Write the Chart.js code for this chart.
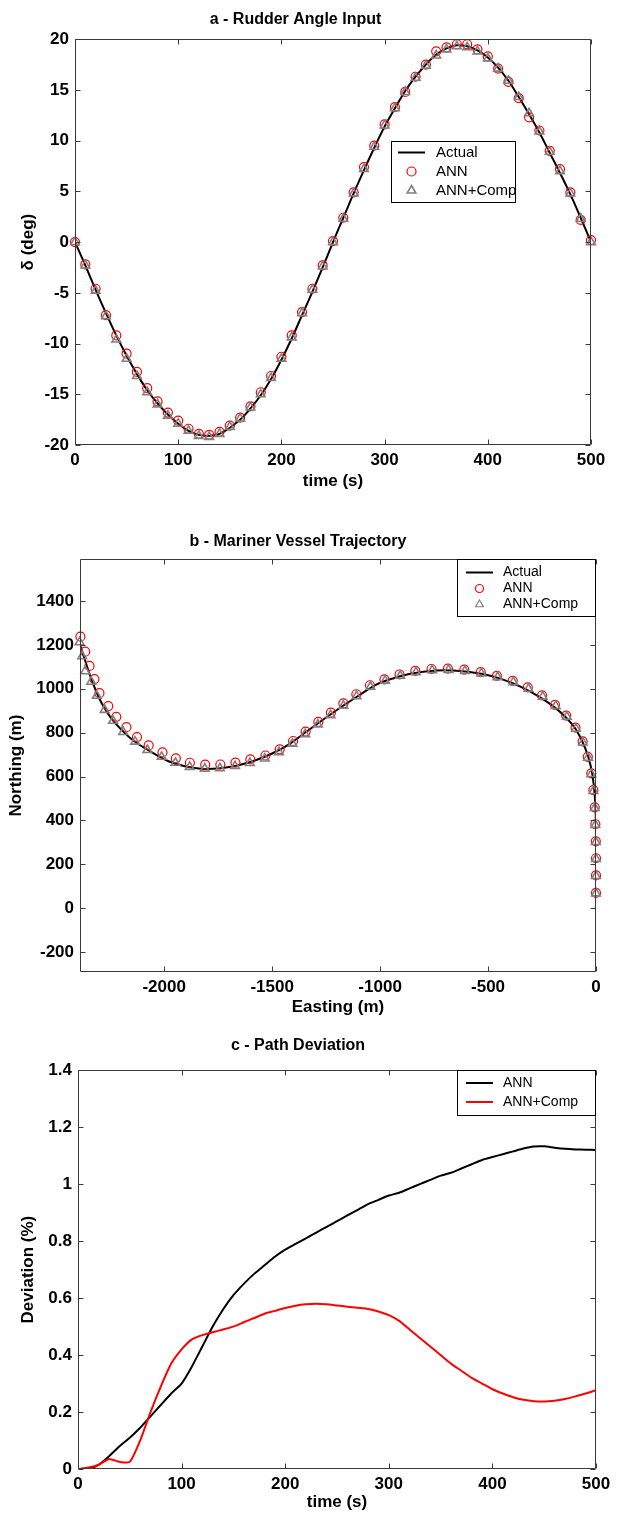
<!DOCTYPE html>
<html>
<head>
<meta charset="utf-8">
<title>Rudder angle, vessel trajectory and path deviation</title>
<script src="https://cdn.jsdelivr.net/npm/chart.js@4.4.1/dist/chart.umd.min.js"></script>
<style>
  body { margin: 0; background: #fff; }
  .panel { position: absolute; left: 0; width: 622px; }
</style>
</head>
<body>
<div class="panel" style="top:0"><canvas id="rudderChart" width="622" height="500"></canvas></div>
<div class="panel" style="top:500px"><canvas id="trackChart" width="622" height="518"></canvas></div>
<div class="panel" style="top:1018px"><canvas id="deviationChart" width="622" height="496"></canvas></div>
<script>
// a - rudder angle (deg), sampled every 10 s
const timeSteps = [0, 10, 20, 30, 40, 50, 60, 70, 80, 90, 100, 110, 120, 130, 140, 150, 160, 170, 180, 190, 200,
  210, 220, 230, 240, 250, 260, 270, 280, 290, 300, 310, 320, 330, 340, 350, 360, 370, 380, 390, 400,
  410, 420, 430, 440, 450, 460, 470, 480, 490, 500];
const actualDelta = [0, -2.3, -4.7, -7.0, -9.2, -11.2, -13.0, -14.6, -15.9, -17.0, -17.9, -18.6, -19.0, -19.1, -18.9, -18.3, -17.5, -16.4, -15.1, -13.5, -11.6,
  -9.5, -7.2, -4.9, -2.5, 0, 2.4, 4.8, 7.1, 9.3, 11.4, 13.2, 14.9, 16.3, 17.5, 18.5, 19.1, 19.4, 19.3, 18.9, 18.2,
  17.2, 15.9, 14.3, 12.6, 10.8, 8.8, 6.8, 4.7, 2.4, 0];
const annDelta = [0, -2.2, -4.6, -7.2, -9.2, -11.0, -12.8, -14.4, -15.7, -16.8, -17.6, -18.4, -18.9, -19.0, -18.7, -18.1, -17.3, -16.2, -14.8, -13.2, -11.3,
  -9.2, -6.9, -4.6, -2.3, 0.1, 2.4, 4.9, 7.4, 9.5, 11.6, 13.3, 14.8, 16.3, 17.5, 18.8, 19.2, 19.5, 19.5, 19.0, 18.3,
  17.1, 15.8, 14.2, 12.3, 11.0, 9.0, 7.2, 4.9, 2.2, 0.2];
const compDelta = [0, -2.3, -4.8, -7.3, -9.6, -11.5, -13.2, -14.8, -16.0, -17.1, -17.9, -18.6, -19.1, -19.2, -18.9, -18.2, -17.4, -16.3, -15.0, -13.4, -11.5,
  -9.4, -7.0, -4.7, -2.4, 0, 2.3, 4.8, 7.2, 9.4, 11.5, 13.2, 14.8, 16.2, 17.4, 18.4, 19.0, 19.3, 19.2, 18.8, 18.1,
  17.1, 15.9, 14.3, 12.7, 10.9, 8.9, 7.0, 4.8, 2.3, 0];
const timeTicks = [0, 100, 200, 300, 400, 500];
const deltaTicks = [-20, -15, -10, -5, 0, 5, 10, 15, 20];

// b - trajectory (m)
const actualEast = [0, 0, -2, -10, -25, -50, -90, -140, -200, -270, -350, -440, -530, -620, -700, -780, -860, -940, -1020,
  -1100, -1180, -1260, -1340, -1420, -1500, -1580, -1660, -1740, -1820, -1900, -1980, -2060, -2140, -2200, -2250,
  -2290, -2320, -2345, -2365, -2390];
const actualNorth = [68, 300, 450, 560, 650, 730, 810, 870, 922, 968, 1010, 1045, 1068, 1080, 1084, 1080, 1068, 1047, 1018,
  968, 917, 862, 805, 748, 705, 673, 650, 638, 635, 646, 670, 712, 762, 815, 872,
  935, 1000, 1065, 1125, 1200];
const annEast = [0, 0, 0, -1, -3, -6, -12, -22, -38, -62, -95, -138, -190, -250, -316, -386, -459, -534, -610, -686,
  -762, -837, -910, -980, -1047, -1110, -1170, -1228, -1286, -1345, -1403, -1465, -1531, -1601, -1670, -1740, -1810,
  -1881, -1946, -2008, -2072, -2126, -2175, -2222, -2259, -2300, -2323, -2346, -2366, -2388];
const annNorth = [70, 150, 228, 305, 383, 460, 538, 615, 690, 760, 823, 878, 927, 970, 1006, 1036, 1059, 1076, 1087, 1092,
  1090, 1081, 1065, 1043, 1016, 975, 933, 891, 849, 805, 762, 724, 696, 678, 664, 655, 654,
  663, 683, 710, 742, 780, 825, 872, 921, 980, 1044, 1104, 1169, 1237];
const compEast = [0, 0, 0, -1, -3, -6, -12, -22, -37, -61, -93, -135, -187, -247, -313, -383, -456, -531, -607, -683,
  -759, -834, -907, -977, -1045, -1109, -1170, -1229, -1288, -1347, -1406, -1468, -1534, -1603, -1672, -1742, -1812,
  -1882, -1948, -2012, -2078, -2135, -2190, -2237, -2276, -2312, -2338, -2366, -2380, -2392];
const compNorth = [68, 147, 225, 302, 380, 457, 534, 611, 686, 755, 818, 873, 922, 964, 1000, 1030, 1053, 1070, 1081, 1086,
  1084, 1075, 1059, 1037, 1009, 966, 923, 880, 837, 793, 750, 711, 682, 662, 648, 638, 636,
  644, 663, 690, 721, 759, 803, 854, 904, 968, 1032, 1080, 1148, 1212];
const eastTicks = [-2000, -1500, -1000, -500, 0];
const northTicks = [-200, 0, 200, 400, 600, 800, 1000, 1200, 1400];

// c - path deviation (%)
const annDeviation = [0, 0, 0.015, 0.045, 0.08, 0.11, 0.145, 0.185, 0.225, 0.265, 0.3, 0.36, 0.43, 0.5, 0.56, 0.61, 0.65, 0.685, 0.715, 0.745, 0.77,
  0.79, 0.81, 0.83, 0.85, 0.87, 0.89, 0.91, 0.93, 0.945, 0.96, 0.97, 0.985, 1.0, 1.015, 1.03, 1.04, 1.055, 1.07, 1.085, 1.095,
  1.105, 1.115, 1.125, 1.132, 1.133, 1.128, 1.124, 1.122, 1.121, 1.12];
const compDeviation = [0, 0.005, 0.015, 0.035, 0.025, 0.025, 0.1, 0.2, 0.29, 0.37, 0.42, 0.455, 0.47, 0.48, 0.49, 0.5, 0.515, 0.53, 0.545, 0.555, 0.565,
  0.573, 0.578, 0.58, 0.578, 0.574, 0.57, 0.566, 0.562, 0.553, 0.54, 0.52, 0.49, 0.46, 0.43, 0.4, 0.37, 0.345, 0.32, 0.3, 0.28,
  0.265, 0.252, 0.243, 0.238, 0.237, 0.24, 0.246, 0.255, 0.265, 0.277];
const deviationTicks = [0, 0.2, 0.4, 0.6, 0.8, 1, 1.2, 1.4];

const FONT = '"Liberation Sans", Arial, Helvetica, sans-serif';
const RED = '#ff0000';
const GREY = '#808080';
Chart.defaults.font.family = FONT;
Chart.defaults.color = '#000';

const toPoints = (xs, ys) => xs.map((x, i) => ({ x, y: ys[i] }));

// box round the plot with inward ticks on all four sides (matlab style)
const frameTicks = {
  id: 'frameTicks',
  afterDatasetsDraw(chart) {
    const { ctx, chartArea: a, scales } = chart;
    const L = Math.round(a.left) + 0.5, R = Math.round(a.right) - 0.5;
    const T = Math.round(a.top) + 0.5, B = Math.round(a.bottom) - 0.5;
    ctx.save();
    ctx.strokeStyle = '#3a3a3a';
    ctx.lineWidth = 1;
    ctx.beginPath();
    scales.x.ticks.forEach(t => {
      const px = Math.round(scales.x.getPixelForValue(t.value)) + 0.5;
      ctx.moveTo(px, B); ctx.lineTo(px, B - 5);
      ctx.moveTo(px, T); ctx.lineTo(px, T + 5);
    });
    scales.y.ticks.forEach(t => {
      const py = Math.round(scales.y.getPixelForValue(t.value)) + 0.5;
      ctx.moveTo(L, py); ctx.lineTo(L + 5, py);
      ctx.moveTo(R, py); ctx.lineTo(R - 5, py);
    });
    ctx.rect(L, T, R - L, B - T);
    ctx.stroke();
    ctx.restore();
  }
};

// legend box drawn inside the plot area
function boxLegend(spec) {
  return {
    id: 'boxLegend',
    afterDraw(chart) {
      const { ctx, chartArea: a } = chart;
      const x0 = Math.round(spec.alignRight ? a.right - spec.width : a.left + spec.left);
      const y0 = Math.round(a.top + spec.top);
      ctx.save();
      ctx.fillStyle = '#fff';
      ctx.fillRect(x0, y0, spec.width, spec.height);
      ctx.strokeStyle = '#000';
      ctx.lineWidth = 1;
      ctx.strokeRect(x0 + 0.5, y0 + 0.5, spec.width - 1, spec.height - 1);
      ctx.font = spec.fontSize + 'px ' + FONT;
      ctx.textBaseline = 'middle';
      spec.items.forEach((item, i) => {
        const y = y0 + spec.firstRow + i * spec.rowGap;
        ctx.strokeStyle = item.color;
        if (item.kind === 'line') {
          ctx.lineWidth = 2;
          ctx.beginPath();
          ctx.moveTo(x0 + spec.sampleFrom, y);
          ctx.lineTo(x0 + spec.sampleTo, y);
          ctx.stroke();
        } else {
          ctx.lineWidth = item.borderWidth;
          ctx.fillStyle = 'rgba(0,0,0,0)';
          Chart.helpers.drawPoint(ctx, { pointStyle: item.kind, radius: item.radius, borderWidth: item.borderWidth, rotation: 0 },
            x0 + (spec.sampleFrom + spec.sampleTo) / 2, y);
        }
        ctx.fillStyle = '#000';
        ctx.fillText(item.label, x0 + spec.textX, y);
      });
      ctx.restore();
    }
  };
}

function linearAxis({ min, max, ticks, title, tickPad, titlePad, fit }) {
  return {
    type: 'linear',
    min, max,
    grid: { display: false, drawTicks: false },
    border: { display: false },
    afterBuildTicks: s => { s.ticks = ticks.map(value => ({ value })); },
    ticks: {
      padding: tickPad, autoSkip: false, maxRotation: 0,
      font: { size: 17, weight: 'bold' },
      callback: v => String(Math.round(v * 10) / 10),
    },
    title: { display: true, text: title, font: { size: 17, weight: 'bold' }, padding: titlePad },
    afterFit: fit,
  };
}

function baseOptions({ title, titlePad, rightPad }) {
  return {
    responsive: false,
    animation: false,
    layout: { padding: { left: 0, right: rightPad, top: 0, bottom: 0 } },
    plugins: {
      legend: { display: false },
      tooltip: { enabled: false },
      title: { display: true, text: title, font: { size: 16, weight: 'bold' }, padding: titlePad },
    },
  };
}

const markerSet = (label, points, style) => ({
  label,
  data: points,
  pointStyle: style === 'circle' ? 'circle' : 'triangle',
  pointRadius: style === 'circle' ? 4.5 : 5,
  pointBorderColor: style === 'circle' ? RED : GREY,
  pointBackgroundColor: 'rgba(0,0,0,0)',
  pointBorderWidth: style === 'circle' ? 1.2 : 1.6,
  showLine: false,
  clip: false,
});

const lineSet = (label, points, color, tension) => ({
  label,
  data: points,
  showLine: true,
  borderColor: color,
  borderWidth: 2,
  pointRadius: 0,
  tension,
});

// a - Rudder Angle Input
new Chart(document.getElementById('rudderChart'), {
  type: 'scatter',
  data: {
    datasets: [
      markerSet('ANN+Comp', toPoints(timeSteps, compDelta), 'triangle'),
      markerSet('ANN', toPoints(timeSteps, annDelta), 'circle'),
      lineSet('Actual', toPoints(timeSteps, actualDelta), '#000', 0.4),
    ],
  },
  options: {
    ...baseOptions({ title: 'a - Rudder Angle Input', titlePad: { top: 10, bottom: 10 }, rightPad: 31 }),
    scales: {
      x: linearAxis({ min: 0, max: 500, ticks: timeTicks, title: 'time (s)', tickPad: 5, titlePad: { top: 0, bottom: 8 },
        fit: s => { s.height = 55; } }),
      y: linearAxis({ min: -20, max: 20, ticks: deltaTicks, title: 'δ (deg)', tickPad: 6, titlePad: { top: 18, bottom: 0 },
        fit: s => { s.width = 75; } }),
    },
  },
  plugins: [frameTicks, boxLegend({
    left: 316, top: 102, width: 125, height: 62, firstRow: 11.5, rowGap: 19, fontSize: 15,
    sampleFrom: 7, sampleTo: 34, textX: 45,
    items: [
      { label: 'Actual', kind: 'line', color: '#000' },
      { label: 'ANN', kind: 'circle', color: RED, radius: 4.5, borderWidth: 1.2 },
      { label: 'ANN+Comp', kind: 'triangle', color: GREY, radius: 5, borderWidth: 1.6 },
    ],
  })],
});

// b - Mariner Vessel Trajectory
new Chart(document.getElementById('trackChart'), {
  type: 'scatter',
  data: {
    datasets: [
      markerSet('ANN+Comp', toPoints(compEast, compNorth), 'triangle'),
      markerSet('ANN', toPoints(annEast, annNorth), 'circle'),
      lineSet('Actual', toPoints(actualEast, actualNorth), '#000', 0.3),
    ],
  },
  options: {
    ...baseOptions({ title: 'b - Mariner Vessel Trajectory', titlePad: { top: 32, bottom: 8 }, rightPad: 26 }),
    scales: {
      x: linearAxis({ min: -2390, max: 0, ticks: eastTicks, title: 'Easting (m)', tickPad: 5, titlePad: { top: 0, bottom: 0 },
        fit: s => { s.height = 46; } }),
      y: linearAxis({ min: -290, max: 1590, ticks: northTicks, title: 'Northing (m)', tickPad: 6, titlePad: { top: 6, bottom: 0 },
        fit: s => { s.width = 80; } }),
    },
  },
  plugins: [frameTicks, boxLegend({
    alignRight: true, top: 0, width: 139, height: 58, firstRow: 13.5, rowGap: 16, fontSize: 14,
    sampleFrom: 9, sampleTo: 36, textX: 46,
    items: [
      { label: 'Actual', kind: 'line', color: '#000' },
      { label: 'ANN', kind: 'circle', color: RED, radius: 4, borderWidth: 1.2 },
      { label: 'ANN+Comp', kind: 'triangle', color: GREY, radius: 4.5, borderWidth: 1.2 },
    ],
  })],
});

// c - Path Deviation
new Chart(document.getElementById('deviationChart'), {
  type: 'scatter',
  data: {
    datasets: [
      lineSet('ANN+Comp', toPoints(timeSteps, compDeviation), RED, 0.2),
      lineSet('ANN', toPoints(timeSteps, annDeviation), '#000', 0.2),
    ],
  },
  options: {
    ...baseOptions({ title: 'c - Path Deviation', titlePad: { top: 18, bottom: 15 }, rightPad: 26 }),
    scales: {
      x: linearAxis({ min: 0, max: 500, ticks: timeTicks, title: 'time (s)', tickPad: 5, titlePad: { top: 0, bottom: 1 },
        fit: s => { s.height = 45; } }),
      y: linearAxis({ min: 0, max: 1.4, ticks: deviationTicks, title: 'Deviation (%)', tickPad: 6, titlePad: { top: 18, bottom: 0 },
        fit: s => { s.width = 78; } }),
    },
  },
  plugins: [frameTicks, boxLegend({
    alignRight: true, top: 0, width: 139, height: 46, firstRow: 13, rowGap: 19, fontSize: 14,
    sampleFrom: 9, sampleTo: 36, textX: 46,
    items: [
      { label: 'ANN', kind: 'line', color: '#000' },
      { label: 'ANN+Comp', kind: 'line', color: RED },
    ],
  })],
});
</script>
</body>
</html>
